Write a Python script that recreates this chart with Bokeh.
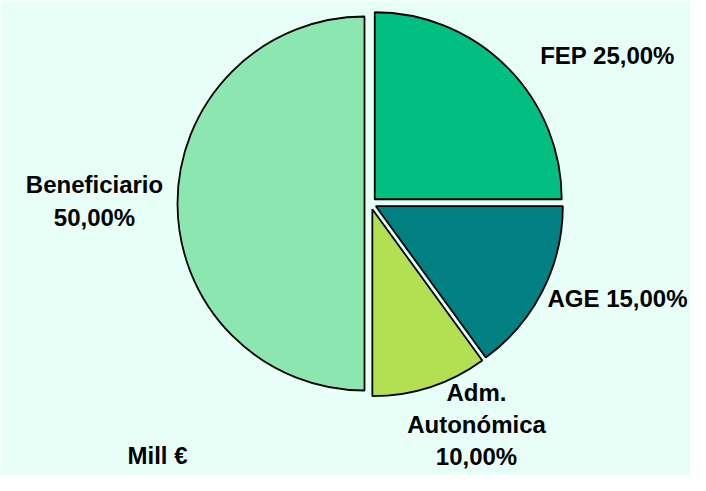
import numpy as np
from bokeh.plotting import figure
from bokeh.models import Range1d, ColumnDataSource
from bokeh.core.properties import value
from bokeh.embed import file_html
from bokeh.resources import INLINE

# ---- data ----
categories = ["FEP", "AGE", "Adm. Autonómica", "Beneficiario"]
shares = [25.0, 15.0, 10.0, 50.0]
colors = ["#00BF80", "#008080", "#B2E050", "#8CE6B0"]
unit_label = "Mill €"

W, H = 690, 475
# data coordinates: x = reference pixel x, y = 491 - reference pixel y
p = figure(width=W, height=H, output_backend="svg", toolbar_location=None,
           x_range=Range1d(0, 690), y_range=Range1d(16, 491),
           min_border=0)
p.axis.visible = False
p.grid.visible = False
p.outline_line_color = None
bg = "#E8FFF8"
p.background_fill_color = bg
p.border_fill_color = bg

# pie geometry
cx, cy, r, explode = 370.0, 288.0, 187.0, 6.0
vals = np.array(shares)
frac = vals / vals.sum()
cum = np.concatenate([[0], np.cumsum(frac)])
start = np.pi / 2 - cum[1:] * 2 * np.pi
end = np.pi / 2 - cum[:-1] * 2 * np.pi
mid = (start + end) / 2
xs = cx + explode * np.cos(mid)
ys = cy + explode * np.sin(mid)

src = ColumnDataSource(dict(x=xs, y=ys, start=start, end=end, color=colors))
p.wedge(x="x", y="y", radius=r, start_angle="start", end_angle="end",
        fill_color="color", line_color="black", line_width=1.8, source=src)

def pct(v):
    return f"{v:.2f}%".replace(".", ",")

label_lines = [
    [f"{categories[0]} {pct(shares[0])}"],
    [f"{categories[1]} {pct(shares[1])}"],
    ["Adm.", "Autonómica", pct(shares[2])],
    [categories[3], pct(shares[3])],
]
label_anchor = [(607, 436), (617, 193), (476, 99), (94, 307)]
steps = [33, 33, 32, 33]

tx, ty, tt = [], [], []
for lines, (ax, ay), st in zip(label_lines, label_anchor, steps):
    for i, ln in enumerate(lines):
        tx.append(ax)
        ty.append(ay - i * st)
        tt.append(ln)
tx.append(157); ty.append(36); tt.append(unit_label)

p.text(x=tx, y=ty, text=tt, text_align="center", text_baseline="alphabetic",
       text_font=value("Liberation Sans"), text_font_style="bold",
       text_font_size="24px", text_color="black")

open("out.html", "w").write(file_html(p, INLINE))
